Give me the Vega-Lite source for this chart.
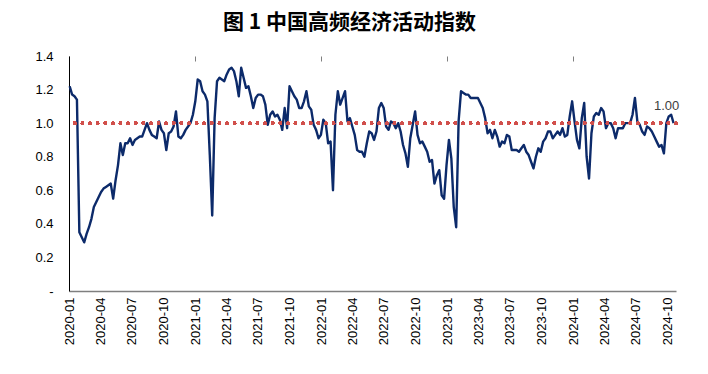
{
  "$schema": "https://vega.github.io/schema/vega-lite/v6.json",
  "width": 607,
  "height": 235,
  "autosize": "none",
  "padding": {"left": 69, "top": 56, "right": 32, "bottom": 83},
  "background": "white",
  "title": {"text": "图 1  中国高频经济活动指数", "font": "Noto Sans CJK SC", "fontSize": 21, "fontWeight": "bold", "color": "#000000", "anchor": "middle", "frame": "group", "dx": -23, "offset": 17},
  "config": {"view": {"stroke": null}, "font": "Liberation Sans", "axis": {"labelOverlap": false}},
  "data": {"values": [
    {"d":"2020-01-03","v":1.22},{"d":"2020-01-10","v":1.17},{"d":"2020-01-17","v":1.16},{"d":"2020-01-24","v":1.14},{"d":"2020-01-31","v":0.35},
    {"d":"2020-02-07","v":0.32},{"d":"2020-02-14","v":0.29},{"d":"2020-02-21","v":0.34},{"d":"2020-02-28","v":0.38},
    {"d":"2020-03-06","v":0.43},{"d":"2020-03-13","v":0.50},{"d":"2020-03-20","v":0.53},{"d":"2020-03-27","v":0.56},
    {"d":"2020-04-03","v":0.59},{"d":"2020-04-10","v":0.61},{"d":"2020-04-17","v":0.62},{"d":"2020-04-24","v":0.63},
    {"d":"2020-05-01","v":0.64},{"d":"2020-05-08","v":0.55},{"d":"2020-05-15","v":0.66},{"d":"2020-05-22","v":0.75},{"d":"2020-05-29","v":0.88},
    {"d":"2020-06-05","v":0.81},{"d":"2020-06-12","v":0.88},{"d":"2020-06-19","v":0.88},{"d":"2020-06-26","v":0.91},
    {"d":"2020-07-03","v":0.87},{"d":"2020-07-10","v":0.90},{"d":"2020-07-17","v":0.91},{"d":"2020-07-24","v":0.92},{"d":"2020-07-31","v":0.92},
    {"d":"2020-08-07","v":0.96},{"d":"2020-08-14","v":1.00},{"d":"2020-08-21","v":0.96},{"d":"2020-08-28","v":0.93},
    {"d":"2020-09-04","v":0.92},{"d":"2020-09-11","v":0.91},{"d":"2020-09-18","v":1.01},{"d":"2020-09-25","v":0.96},
    {"d":"2020-10-02","v":0.94},{"d":"2020-10-09","v":0.84},{"d":"2020-10-16","v":0.94},{"d":"2020-10-23","v":0.95},{"d":"2020-10-30","v":0.98},
    {"d":"2020-11-06","v":1.07},{"d":"2020-11-13","v":0.92},{"d":"2020-11-20","v":0.91},{"d":"2020-11-27","v":0.93},
    {"d":"2020-12-04","v":0.96},{"d":"2020-12-11","v":0.98},{"d":"2020-12-18","v":1.00},{"d":"2020-12-25","v":1.05},
    {"d":"2021-01-01","v":1.13},{"d":"2021-01-08","v":1.26},{"d":"2021-01-15","v":1.25},{"d":"2021-01-22","v":1.19},{"d":"2021-01-29","v":1.17},
    {"d":"2021-02-05","v":1.13},{"d":"2021-02-12","v":0.81},{"d":"2021-02-19","v":0.45},{"d":"2021-02-26","v":1.03},
    {"d":"2021-03-05","v":1.25},{"d":"2021-03-12","v":1.27},{"d":"2021-03-19","v":1.26},{"d":"2021-03-26","v":1.25},
    {"d":"2021-04-02","v":1.29},{"d":"2021-04-09","v":1.32},{"d":"2021-04-16","v":1.33},{"d":"2021-04-23","v":1.31},{"d":"2021-04-30","v":1.25},
    {"d":"2021-05-07","v":1.16},{"d":"2021-05-14","v":1.33},{"d":"2021-05-21","v":1.27},{"d":"2021-05-28","v":1.21},
    {"d":"2021-06-04","v":1.22},{"d":"2021-06-11","v":1.16},{"d":"2021-06-18","v":1.09},{"d":"2021-06-25","v":1.15},
    {"d":"2021-07-02","v":1.17},{"d":"2021-07-09","v":1.17},{"d":"2021-07-16","v":1.16},{"d":"2021-07-23","v":1.11},{"d":"2021-07-30","v":0.99},
    {"d":"2021-08-06","v":1.05},{"d":"2021-08-13","v":1.07},{"d":"2021-08-20","v":1.04},{"d":"2021-08-27","v":1.05},
    {"d":"2021-09-03","v":1.02},{"d":"2021-09-10","v":0.96},{"d":"2021-09-17","v":1.09},{"d":"2021-09-24","v":0.97},
    {"d":"2021-10-01","v":1.22},{"d":"2021-10-08","v":1.19},{"d":"2021-10-15","v":1.16},{"d":"2021-10-22","v":1.14},{"d":"2021-10-29","v":1.09},
    {"d":"2021-11-05","v":1.09},{"d":"2021-11-12","v":1.13},{"d":"2021-11-19","v":1.19},{"d":"2021-11-26","v":1.10},
    {"d":"2021-12-03","v":1.08},{"d":"2021-12-10","v":0.99},{"d":"2021-12-17","v":0.96},{"d":"2021-12-24","v":0.91},{"d":"2021-12-31","v":0.93},
    {"d":"2022-01-07","v":1.02},{"d":"2022-01-14","v":1.00},{"d":"2022-01-21","v":0.88},{"d":"2022-01-28","v":0.89},
    {"d":"2022-02-04","v":0.60},{"d":"2022-02-11","v":1.05},{"d":"2022-02-18","v":1.19},{"d":"2022-02-25","v":1.11},
    {"d":"2022-03-04","v":1.15},{"d":"2022-03-11","v":1.19},{"d":"2022-03-18","v":1.01},{"d":"2022-03-25","v":1.03},
    {"d":"2022-04-01","v":0.98},{"d":"2022-04-08","v":0.93},{"d":"2022-04-15","v":0.84},{"d":"2022-04-22","v":0.83},{"d":"2022-04-29","v":0.83},
    {"d":"2022-05-06","v":0.80},{"d":"2022-05-13","v":0.88},{"d":"2022-05-20","v":0.95},{"d":"2022-05-27","v":0.94},
    {"d":"2022-06-03","v":0.90},{"d":"2022-06-10","v":0.95},{"d":"2022-06-17","v":1.09},{"d":"2022-06-24","v":1.12},
    {"d":"2022-07-01","v":1.09},{"d":"2022-07-08","v":0.98},{"d":"2022-07-15","v":0.96},{"d":"2022-07-22","v":1.01},{"d":"2022-07-29","v":1.00},
    {"d":"2022-08-05","v":0.97},{"d":"2022-08-12","v":1.00},{"d":"2022-08-19","v":0.95},{"d":"2022-08-26","v":0.87},
    {"d":"2022-09-02","v":0.82},{"d":"2022-09-09","v":0.74},{"d":"2022-09-16","v":0.91},{"d":"2022-09-23","v":0.99},{"d":"2022-09-30","v":1.07},
    {"d":"2022-10-07","v":0.93},{"d":"2022-10-14","v":0.88},{"d":"2022-10-21","v":0.89},{"d":"2022-10-28","v":0.86},
    {"d":"2022-11-04","v":0.83},{"d":"2022-11-11","v":0.77},{"d":"2022-11-18","v":0.78},{"d":"2022-11-25","v":0.64},
    {"d":"2022-12-02","v":0.69},{"d":"2022-12-09","v":0.72},{"d":"2022-12-16","v":0.57},{"d":"2022-12-23","v":0.55},{"d":"2022-12-30","v":0.75},
    {"d":"2023-01-06","v":0.90},{"d":"2023-01-13","v":0.79},{"d":"2023-01-20","v":0.50},{"d":"2023-01-27","v":0.38},
    {"d":"2023-02-03","v":1.01},{"d":"2023-02-10","v":1.19},{"d":"2023-02-17","v":1.18},{"d":"2023-02-24","v":1.17},
    {"d":"2023-03-03","v":1.17},{"d":"2023-03-10","v":1.15},{"d":"2023-03-17","v":1.15},{"d":"2023-03-24","v":1.15},{"d":"2023-03-31","v":1.15},
    {"d":"2023-04-07","v":1.12},{"d":"2023-04-14","v":1.09},{"d":"2023-04-21","v":1.03},{"d":"2023-04-28","v":0.94},
    {"d":"2023-05-05","v":0.96},{"d":"2023-05-12","v":0.91},{"d":"2023-05-19","v":0.96},{"d":"2023-05-26","v":0.92},
    {"d":"2023-06-02","v":0.86},{"d":"2023-06-09","v":0.89},{"d":"2023-06-16","v":0.88},{"d":"2023-06-23","v":0.93},{"d":"2023-06-30","v":0.92},
    {"d":"2023-07-07","v":0.84},{"d":"2023-07-14","v":0.84},{"d":"2023-07-21","v":0.84},{"d":"2023-07-28","v":0.83},
    {"d":"2023-08-04","v":0.85},{"d":"2023-08-11","v":0.87},{"d":"2023-08-18","v":0.83},{"d":"2023-08-25","v":0.81},
    {"d":"2023-09-01","v":0.77},{"d":"2023-09-08","v":0.73},{"d":"2023-09-15","v":0.80},{"d":"2023-09-22","v":0.85},{"d":"2023-09-29","v":0.83},
    {"d":"2023-10-06","v":0.89},{"d":"2023-10-13","v":0.91},{"d":"2023-10-20","v":0.95},{"d":"2023-10-27","v":0.95},
    {"d":"2023-11-03","v":0.91},{"d":"2023-11-10","v":0.93},{"d":"2023-11-17","v":0.95},{"d":"2023-11-24","v":0.93},
    {"d":"2023-12-01","v":0.97},{"d":"2023-12-08","v":0.92},{"d":"2023-12-15","v":0.93},{"d":"2023-12-22","v":1.04},{"d":"2023-12-29","v":1.13},
    {"d":"2024-01-05","v":1.01},{"d":"2024-01-12","v":0.90},{"d":"2024-01-19","v":0.85},{"d":"2024-01-26","v":1.03},
    {"d":"2024-02-02","v":1.12},{"d":"2024-02-09","v":0.80},{"d":"2024-02-16","v":0.67},{"d":"2024-02-23","v":0.94},
    {"d":"2024-03-01","v":1.04},{"d":"2024-03-08","v":1.06},{"d":"2024-03-15","v":1.05},{"d":"2024-03-22","v":1.09},{"d":"2024-03-29","v":1.07},
    {"d":"2024-04-05","v":0.97},{"d":"2024-04-12","v":1.00},{"d":"2024-04-19","v":1.00},{"d":"2024-04-26","v":0.97},
    {"d":"2024-05-03","v":0.91},{"d":"2024-05-10","v":0.97},{"d":"2024-05-17","v":0.97},{"d":"2024-05-24","v":0.97},{"d":"2024-05-31","v":1.00},
    {"d":"2024-06-07","v":1.00},{"d":"2024-06-14","v":1.00},{"d":"2024-06-21","v":1.05},{"d":"2024-06-28","v":1.15},
    {"d":"2024-07-05","v":1.01},{"d":"2024-07-12","v":0.99},{"d":"2024-07-19","v":0.95},{"d":"2024-07-26","v":0.93},
    {"d":"2024-08-02","v":0.98},{"d":"2024-08-09","v":0.97},{"d":"2024-08-16","v":0.95},{"d":"2024-08-23","v":0.92},{"d":"2024-08-30","v":0.89},
    {"d":"2024-09-06","v":0.86},{"d":"2024-09-13","v":0.87},{"d":"2024-09-20","v":0.82},{"d":"2024-09-27","v":1.00},
    {"d":"2024-10-04","v":1.04},{"d":"2024-10-11","v":1.05},{"d":"2024-10-18","v":1.00}
  ]},
  "layer": [
    {
      "mark": {"type": "line", "color": "#0C2A6A", "strokeWidth": 2.4, "strokeJoin": "round"},
      "encoding": {
        "x": {
          "field": "d", "type": "temporal",
          "scale": {"type": "utc", "domain": [{"year": 2020, "month": 1, "date": 1, "utc": true}, {"year": 2024, "month": 10, "date": 25, "utc": true}]},
          "axis": {"format": "%Y-%m", "tickCount": {"interval": "month", "step": 3}, "labelAngle": -90, "labelAlign": "right", "labelBaseline": "middle", "ticks": false, "grid": false, "domain": true, "domainColor": "#7f7f7f", "domainWidth": 1.5, "labelFont": "Liberation Sans", "labelFontSize": 13, "labelColor": "#000000", "labelPadding": 6, "labelOverlap": false, "labelBound": false, "labelFlush": false, "title": null}
        },
        "y": {
          "field": "v", "type": "quantitative",
          "scale": {"domain": [0, 1.4], "nice": false},
          "axis": {"values": [0, 0.2, 0.4, 0.6, 0.8, 1, 1.2, 1.4], "tickCount": 20, "labelExpr": "datum.value == 0 ? '-' : format(datum.value, '.1f')", "labelOverlap": false, "labelBound": false, "labelFlush": false, "ticks": false, "grid": false, "domain": true, "domainColor": "#000000", "domainWidth": 1, "labelFont": "Liberation Sans", "labelFontSize": 13, "labelColor": "#000000", "labelPadding": 16, "title": null}
        }
      }
    },
    {
      "mark": {"type": "rule", "color": "#D0504C", "strokeWidth": 3.2, "strokeDash": [0.01, 7.6], "strokeCap": "round"},
      "encoding": {"y": {"datum": 1}}
    },
    {
      "transform": [
        {"window": [{"op": "row_number", "as": "rn"}], "sort": [{"field": "d", "order": "descending"}]},
        {"filter": "datum.rn == 1"}
      ],
      "mark": {"type": "text", "align": "center", "baseline": "middle", "dx": -7, "dy": -17, "fontSize": 13, "color": "#404040", "font": "Liberation Sans"},
      "encoding": {
        "x": {"field": "d", "type": "temporal", "axis": {"tickCount": {"interval": "year", "step": 1}, "labels": false, "domain": false, "grid": false, "ticks": true, "tickSize": -5, "tickColor": "#7f7f7f", "tickWidth": 1, "title": null}},
        "y": {"field": "v", "type": "quantitative"},
        "text": {"field": "v", "type": "quantitative", "format": ".2f"}
      }
    }
  ],
  "resolve": {"axis": {"x": "independent"}}
}
